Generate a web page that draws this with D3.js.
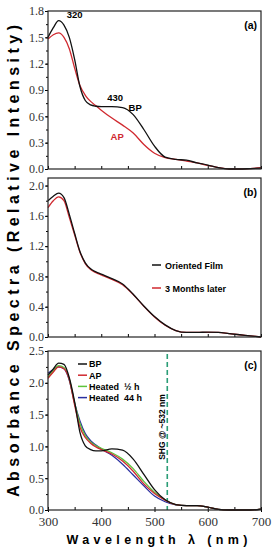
<!DOCTYPE html>
<html>
<head>
<meta charset="utf-8">
<script src="https://cdn.jsdelivr.net/npm/d3@7/dist/d3.min.js"></script>
<style>
  body { margin: 0; background: #fff; }
  svg { display: block; }
  .tick text { font-family: "Liberation Serif", "DejaVu Serif", serif; fill: #333; }
  .lbl { font-family: "Liberation Sans", Arial, sans-serif; font-weight: bold; }
</style>
</head>
<body>
<svg id="chart" width="276" height="550"></svg>
<script>
// shared wavelength grid (nm)
const wavelength = [300, 310, 320, 330, 340, 350, 360, 370, 380, 390, 400, 420, 440, 460, 480, 500, 520, 540, 560, 580, 600, 620, 640, 660, 680, 700];

// panel (a)
const aBP = [1.50, 1.61, 1.69, 1.64, 1.50, 1.25, 0.94, 0.78, 0.73, 0.715, 0.71, 0.71, 0.70, 0.62, 0.45, 0.26, 0.135, 0.11, 0.10, 0.07, 0.045, 0.015, 0.0, 0.0, 0.005, 0.01];
const aAP = [1.48, 1.53, 1.55, 1.50, 1.37, 1.15, 0.95, 0.84, 0.77, 0.72, 0.67, 0.58, 0.50, 0.41, 0.28, 0.18, 0.13, 0.11, 0.09, 0.07, 0.04, 0.015, 0.0, 0.0, 0.005, 0.015];

// panel (b)
const bFilm = [1.80, 1.86, 1.90, 1.84, 1.62, 1.37, 1.13, 0.98, 0.90, 0.86, 0.83, 0.77, 0.70, 0.565, 0.41, 0.27, 0.16, 0.085, 0.06, 0.06, 0.065, 0.06, 0.045, 0.03, 0.015, 0.0];
const bLater = [1.71, 1.80, 1.85, 1.80, 1.58, 1.35, 1.12, 0.97, 0.89, 0.85, 0.82, 0.76, 0.69, 0.56, 0.405, 0.265, 0.155, 0.085, 0.06, 0.06, 0.06, 0.06, 0.045, 0.03, 0.015, 0.0];

// panel (c)
const cBP = [2.12, 2.22, 2.31, 2.29, 2.08, 1.70, 1.22, 1.01, 0.95, 0.93, 0.93, 0.96, 0.94, 0.80, 0.56, 0.32, 0.16, 0.085, 0.07, 0.07, 0.045, 0.01, 0.0, 0.0, 0.0, 0.015];
const cAP = [2.07, 2.17, 2.25, 2.22, 2.05, 1.65, 1.30, 1.14, 1.05, 0.99, 0.95, 0.88, 0.77, 0.61, 0.41, 0.26, 0.155, 0.085, 0.07, 0.07, 0.045, 0.01, 0.0, 0.0, 0.0, 0.015];
const cHalf = [2.09, 2.19, 2.27, 2.24, 2.06, 1.68, 1.36, 1.17, 1.07, 1.01, 0.97, 0.90, 0.80, 0.65, 0.45, 0.28, 0.16, 0.085, 0.07, 0.07, 0.045, 0.01, 0.0, 0.0, 0.0, 0.015];
const c44 = [2.15, 2.21, 2.25, 2.22, 2.04, 1.68, 1.40, 1.20, 1.09, 1.02, 0.96, 0.86, 0.72, 0.55, 0.38, 0.22, 0.13, 0.08, 0.07, 0.07, 0.045, 0.01, 0.0, 0.0, 0.0, 0.015];

// tick labels
const xTicks = [300, 400, 500, 600, 700];
const aTicks = [0, 0.3, 0.6, 0.9, 1.2, 1.5, 1.8];
const bTicks = [0, 0.4, 0.8, 1.2, 1.6, 2.0];
const cTicks = [0, 0.5, 1.0, 1.5, 2.0, 2.5];
const shgLine = 524;

const svg = d3.select("#chart");
const left = 48, right = 261;

const x = d3.scaleLinear().domain([300, 700]).range([left, right]);

const panels = [
  { top: 11, bottom: 169, max: 1.8, ticks: aTicks, step: 0.15, tag: "(a)",
    series: [{ v: aBP, c: "#111" }, { v: aAP, c: "#d0292f" }] },
  { top: 178, bottom: 337, max: 2.1, ticks: bTicks, step: 0.2, tag: "(b)",
    series: [{ v: bFilm, c: "#111" }, { v: bLater, c: "#d0292f" }] },
  { top: 351, bottom: 510, max: 2.5, ticks: cTicks, step: 0.25, tag: "(c)",
    series: [{ v: cBP, c: "#111" }, { v: cAP, c: "#d0292f" }, { v: cHalf, c: "#5cc43c" }, { v: c44, c: "#2a2fa0" }] }
];

panels.forEach((p, i) => {
  const y = d3.scaleLinear().domain([0, p.max]).range([p.bottom, p.top]);
  p.y = y;
  const g = svg.append("g");

  const minor = d3.range(0, p.max + 1e-6, p.step);
  g.append("g").attr("transform", `translate(${left},0)`)
    .call(d3.axisLeft(y).tickValues(minor).tickSize(2).tickFormat(""))
    .call(s => s.select(".domain").remove());
  g.append("g").attr("transform", `translate(${left},0)`)
    .call(d3.axisLeft(y).tickValues(p.ticks).tickSize(3).tickPadding(1).tickFormat(d3.format(".1f")))
    .call(s => s.select(".domain").remove())
    .call(s => s.selectAll("text").style("font-size", "12px"));

  g.append("g").attr("transform", `translate(0,${p.bottom})`)
    .call(d3.axisBottom(x).tickValues(d3.range(300, 701, 50)).tickSize(-3).tickFormat(""))
    .call(s => s.select(".domain").remove());
  if (i === 2) {
    g.append("g").attr("transform", `translate(0,${p.bottom})`)
      .call(d3.axisBottom(x).tickValues(xTicks).tickSize(2).tickPadding(5))
      .call(s => s.select(".domain").remove())
      .call(s => s.selectAll("text").style("font-size", "13px"));
  }

  const line = d3.line()
    .x((d, k) => x(wavelength[k]))
    .y(d => y(d))
    .curve(d3.curveMonotoneX);

  if (i === 2) {
    g.append("line")
      .attr("x1", x(shgLine)).attr("x2", x(shgLine))
      .attr("y1", p.top + 3).attr("y2", p.bottom)
      .attr("stroke", "#2a9d76").attr("stroke-width", 1.6)
      .attr("stroke-dasharray", "5,3");
  }

  // draw in reverse so first series sits on top
  p.series.slice().reverse().forEach(s => {
    g.append("path").datum(s.v)
      .attr("d", line)
      .attr("fill", "none")
      .attr("stroke", s.c)
      .attr("stroke-width", 1.3);
  });

  g.append("rect")
    .attr("x", left).attr("y", p.top)
    .attr("width", right - left).attr("height", p.bottom - p.top)
    .attr("fill", "none").attr("stroke", "#222").attr("stroke-width", 1.2);

  g.append("text").attr("class", "lbl")
    .attr("x", 257).attr("y", p.top + 18)
    .attr("text-anchor", "end").style("font-size", "10.5px")
    .text(p.tag);
});

// panel (a) annotations
const pa = panels[0];
svg.append("text").attr("class", "lbl").attr("x", x(320) + 8).attr("y", pa.y(1.72))
  .style("font-size", "9.5px").text("320");
svg.append("text").attr("class", "lbl").attr("x", x(430) - 10).attr("y", pa.y(0.78))
  .style("font-size", "9.5px").text("430");
svg.append("text").attr("class", "lbl").attr("x", x(455) - 2).attr("y", pa.y(0.66))
  .style("font-size", "9.5px").text("BP");
svg.append("text").attr("class", "lbl").attr("x", x(425) - 4).attr("y", pa.y(0.33))
  .style("font-size", "9.5px").attr("fill", "#d0292f").text("AP");

// panel (b) legend
const bLegend = ["Oriented Film", "3 Months later"];
const bColors = ["#111", "#d0292f"];
bLegend.forEach((t, k) => {
  const yy = 265 + k * 23;
  svg.append("line").attr("x1", 152).attr("x2", 161).attr("y1", yy).attr("y2", yy)
    .attr("stroke", bColors[k]).attr("stroke-width", 1.5);
  svg.append("text").attr("class", "lbl").attr("x", 165).attr("y", yy + 3.5)
    .style("font-size", "9px").text(t);
});

// panel (c) legend
const cLegend = ["BP", "AP", "Heated  \u00bd h", "Heated  44 h"];
const cColors = ["#111", "#d0292f", "#5cc43c", "#2a2fa0"];
cLegend.forEach((t, k) => {
  const yy = 364 + k * 11.2;
  svg.append("line").attr("x1", 78).attr("x2", 87).attr("y1", yy).attr("y2", yy)
    .attr("stroke", cColors[k]).attr("stroke-width", 1.5);
  svg.append("text").attr("class", "lbl").attr("x", 89).attr("y", yy + 3.3)
    .style("font-size", "9px").style("white-space", "pre").text(t);
});

svg.append("text").attr("class", "lbl")
  .attr("transform", `translate(${x(shgLine) - 2},427) rotate(-90)`)
  .attr("text-anchor", "middle").style("font-size", "8.5px")
  .text("SHG @ ~532 nm");

// axis titles
svg.append("text").attr("class", "lbl")
  .attr("transform", "translate(19,261) rotate(-90)")
  .attr("text-anchor", "middle").style("font-size", "16px")
  .attr("textLength", 472).attr("lengthAdjust", "spacing")
  .text("Absorbance Spectra (Relative Intensity)");

svg.append("text").attr("class", "lbl")
  .attr("x", 157).attr("y", 544)
  .attr("text-anchor", "middle").style("font-size", "12.5px")
  .attr("textLength", 181).attr("lengthAdjust", "spacing")
  .text("Wavelength \u03bb (nm)");
</script>
</body>
</html>
